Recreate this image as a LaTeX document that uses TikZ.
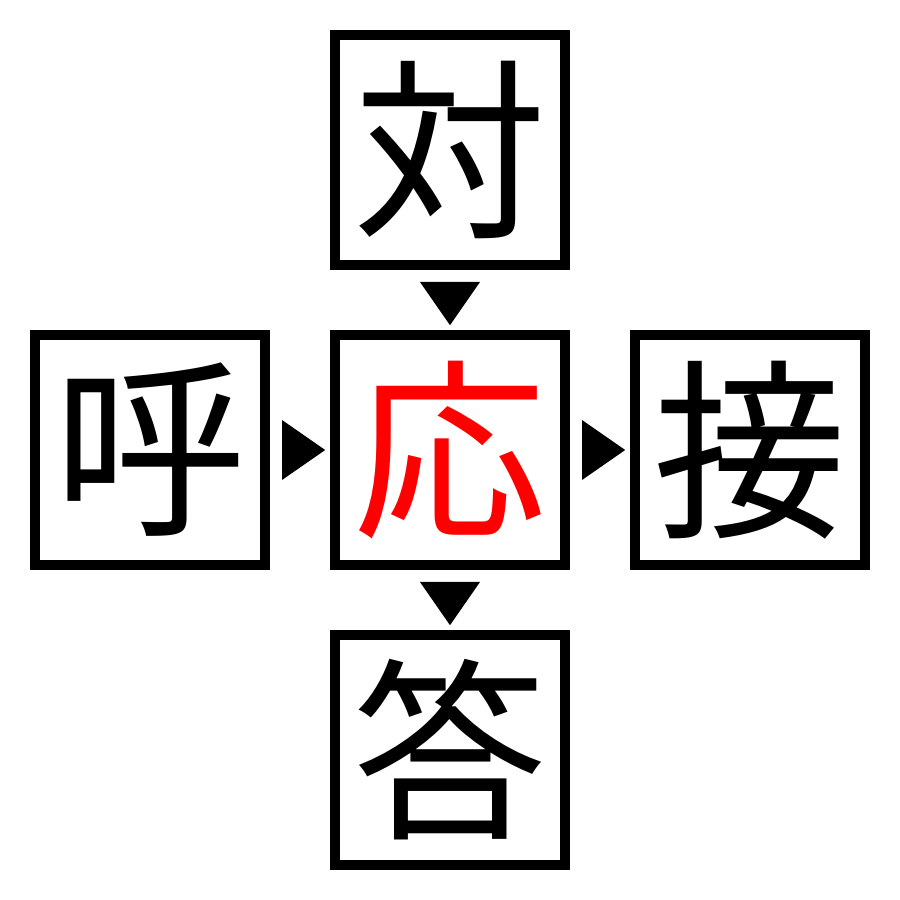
\documentclass[tikz,border=0pt]{standalone}
\usepackage{fontspec}
\newfontfamily\jpfont{Noto Sans CJK JP}
\usetikzlibrary{calc}

\begin{document}
\begin{tikzpicture}[line cap=rect,line join=miter,x=1.0cm,y=1.0cm,
    kanji/.style={draw=black,line width=0.1cm,minimum size=2.3cm,inner sep=0pt,
      font=\jpfont\fontsize{55}{55}\selectfont}]
      \useasboundingbox (0,0) rectangle (9,9);
      \node[kanji] (mid) at (4.5,4.5) {\textcolor{red}{応}};
      \node[kanji] (top) at (4.5,7.5) {対};
      \node[kanji] (left) at (1.5,4.5) {呼};
      \node[kanji] (right) at (7.5,4.5) {接};
      \node[kanji] (bot) at (4.5,1.5) {答};
      \foreach \a/\b in {top/mid,mid/bot}
      \fill ($(\a.south)!0.2!(\b.north)+(-0.3,0)$) -- ($(\a.south)!0.2!(\b.north)+(0.3,0)$) -- ($(\a.south)!0.92!(\b.north)$) -- cycle;
      \foreach \a/\b in {left/mid,mid/right}
      \fill ($(\a.east)!0.2!(\b.west)+(0,0.3)$) -- ($(\a.east)!0.2!(\b.west)+(0,-0.3)$) -- ($(\a.east)!0.92!(\b.west)$) -- cycle;
    \end{tikzpicture}
\end{document}
